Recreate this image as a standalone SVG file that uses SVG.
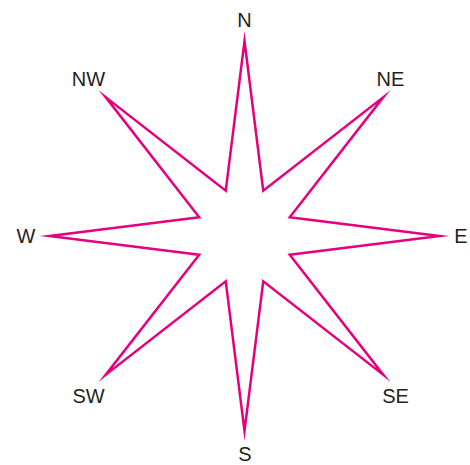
<svg xmlns="http://www.w3.org/2000/svg" width="470" height="465" viewBox="0 0 470 465">
<style>
.lbl{font-family:"Liberation Sans",Arial,sans-serif;font-size:20px;fill:#231f20;text-anchor:middle}
.star{fill:none;stroke:#e6007e;stroke-width:2.5;stroke-miterlimit:30;stroke-linejoin:miter}
</style>
<rect width="470" height="465" fill="#fff"/>
<g id="star">
<polygon class="star" points="244.5,41 263.25,190.73 383.4,97.1 289.77,217.25 439.5,236 289.77,254.75 383.4,374.9 263.25,281.27 244.5,431 225.75,281.27 105.6,374.9 199.23,254.75 49.5,236 199.23,217.25 105.6,97.1 225.75,190.73"/>
</g>
<g id="labels">
<g id="N"><text class="lbl" x="244.5" y="27">N</text></g>
<g id="NE"><text class="lbl" x="390.5" y="86">NE</text></g>
<g id="E"><text class="lbl" x="461" y="243">E</text></g>
<g id="SE"><text class="lbl" x="395.5" y="403">SE</text></g>
<g id="S"><text class="lbl" x="245" y="461">S</text></g>
<g id="SW"><text class="lbl" x="88.5" y="403">SW</text></g>
<g id="W"><text class="lbl" x="26" y="243">W</text></g>
<g id="NW"><text class="lbl" x="88.5" y="86">NW</text></g>
</g>
</svg>
